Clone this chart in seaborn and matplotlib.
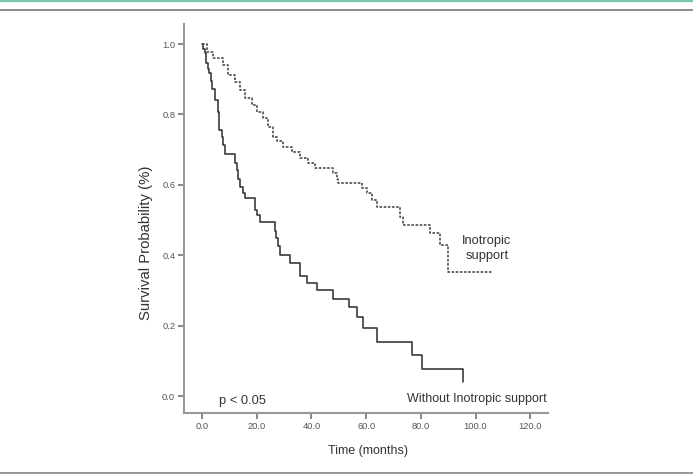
import pandas as pd
import matplotlib.pyplot as plt
from matplotlib.lines import Line2D
import seaborn as sns

# Kaplan-Meier step points (time in months, survival after the step)
without_time = [0, 0.5, 1.1, 1.5, 2.3, 2.7, 3.2, 3.5, 4.8, 6.0, 6.3, 7.2, 7.8, 8.4,
                12.1, 12.7, 13.3, 13.9, 15.1, 15.7, 19.4, 20.0, 21.2, 26.7, 27.2,
                27.7, 28.5, 32.2, 35.7, 38.3, 42.2, 47.8, 53.9, 56.6, 59.0, 63.9,
                76.7, 80.6, 95.3]
without_surv = [1.0, 0.985, 0.974, 0.945, 0.93, 0.917, 0.895, 0.871, 0.841, 0.808,
                0.756, 0.737, 0.713, 0.687, 0.661, 0.642, 0.618, 0.595, 0.576, 0.562,
                0.528, 0.514, 0.494, 0.470, 0.448, 0.425, 0.400, 0.379, 0.341, 0.322,
                0.301, 0.277, 0.252, 0.225, 0.192, 0.154, 0.116, 0.077, 0.040]

with_time = [0, 1.7, 4.1, 7.8, 9.6, 12.1, 13.9, 15.7, 18.2, 20.0, 22.4, 24.2, 26.1,
             27.3, 29.7, 32.8, 35.8, 38.9, 41.3, 48.0, 49.2, 49.8, 58.4, 60.2, 62.0,
             63.9, 72.4, 73.6, 83.4, 87.0, 90.1, 106.5]
with_surv = [1.0, 0.978, 0.959, 0.940, 0.912, 0.893, 0.869, 0.846, 0.827, 0.808,
             0.789, 0.765, 0.737, 0.725, 0.708, 0.694, 0.675, 0.661, 0.649, 0.633,
             0.618, 0.604, 0.590, 0.576, 0.557, 0.538, 0.510, 0.486, 0.462, 0.429,
             0.353, 0.353]

x_ticks = [0, 20, 40, 60, 80, 100, 120]
x_labels = ["0.0", "20.0", "40.0", "60.0", "80.0", "100.0", "120.0"]
y_ticks = [0.0, 0.2, 0.4, 0.6, 0.8, 1.0]
y_labels = ["0.0", "0.2", "0.4", "0.6", "0.8", "1.0"]

df = pd.concat([
    pd.DataFrame({"time": without_time, "surv": without_surv, "group": "Without"}),
    pd.DataFrame({"time": with_time, "surv": with_surv, "group": "Inotropic"}),
], ignore_index=True)

sns.set_style("white")
plt.rcParams["font.family"] = ["Liberation Sans", "DejaVu Sans"]

fig = plt.figure(figsize=(6.93, 4.76), dpi=100)
ax = fig.add_axes([0.2655, 0.1324, 0.5253, 0.8172])

sns.lineplot(data=df, x="time", y="surv", hue="group", style="group",
             palette={"Without": "#333333", "Inotropic": "#444444"},
             dashes={"Without": "", "Inotropic": (1.6, 1.0)},
             drawstyle="steps-post", estimator=None, sort=False,
             linewidth=1.15, legend=False, ax=ax)

ax.set_xlim(-6.6, 126.5)
ax.set_ylim(-0.048, 1.057)
ax.set_xticks(x_ticks)
ax.set_xticklabels(x_labels, fontsize=6.7, color="#555555")
ax.set_yticks(y_ticks)
ax.set_yticklabels(y_labels, fontsize=6.7, color="#555555")
ax.tick_params(direction="out", length=4.3, width=1.1, color="#666666", pad=2,
               bottom=True, left=True)

for side in ["top", "right"]:
    ax.spines[side].set_visible(False)
for side in ["left", "bottom"]:
    ax.spines[side].set_color("#999999")
    ax.spines[side].set_linewidth(1.5)

ax.set_xlabel("Time (months)", fontsize=9.0, color="#333333")
ax.set_ylabel("Survival Probability (%)", fontsize=10.7, color="#333333")
ax.xaxis.set_label_coords(0.505, -0.082)
ax.yaxis.set_label_coords(-0.085, 0.437)

ax.text(6.2, -0.013, "p < 0.05", fontsize=9.3, color="#333333", ha="left", va="center")
ax.text(126.0, -0.009, "Without Inotropic support", fontsize=9.0, color="#333333",
        ha="right", va="center")
ax.text(104.1, 0.42, "Inotropic\nsupport", fontsize=9.3, color="#333333",
        ha="center", va="center", multialignment="center", linespacing=1.35)

# page rules above and below the figure
fig.add_artist(Line2D([0, 1], [1 - 0.8 / 476] * 2, color="#7cc4a6", lw=1.6, transform=fig.transFigure))
fig.add_artist(Line2D([0, 1], [1 - 9.5 / 476] * 2, color="#777777", lw=1.2, transform=fig.transFigure))
fig.add_artist(Line2D([0, 1], [1 - 472.5 / 476] * 2, color="#888888", lw=1.2, transform=fig.transFigure))

fig.savefig("out.png", dpi=100)
